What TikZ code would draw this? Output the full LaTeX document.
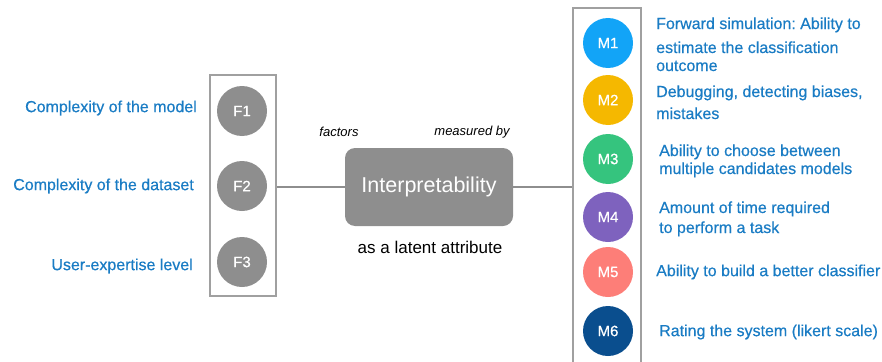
\documentclass[tikz,border=0pt]{standalone}
\usepackage{fontspec}
\setmainfont{Liberation Sans}
\newfontfamily\labfont{Liberation Sans}[FakeBold=0.5]
\frenchspacing
\definecolor{labblue}{HTML}{1A7CC4}
\definecolor{facgray}{HTML}{8E8E8E}
\definecolor{framegray}{HTML}{A0A0A0}
\definecolor{mone}{HTML}{12A4F7}
\definecolor{mtwo}{HTML}{F5B800}
\definecolor{mthree}{HTML}{35C47E}
\definecolor{mfour}{HTML}{7E62BE}
\definecolor{mfive}{HTML}{FD7E78}
\definecolor{msix}{HTML}{0A4E8E}
\begin{document}
\begin{tikzpicture}[x=1pt,y=-1pt,
  every node/.style={inner sep=0pt},
  frame/.style={draw=framegray, line width=2.4pt, rectangle},
  factor/.style={circle, fill=facgray, minimum size=50pt, text=white,
    font=\labfont\fontsize{15}{18}\selectfont},
  measure/.style={circle, minimum size=50pt, text=white,
    font=\labfont\fontsize{15}{18}\selectfont},
  lab/.style={text=labblue, align=left, font=\labfont\fontsize{16}{20}\selectfont},
  conn/.style={draw=facgray, line width=2pt},
  note/.style={font=\itshape\fontsize{13}{16}\selectfont}]
\useasboundingbox (0,0) rectangle (882,361);

% factor frame and circles
\node[frame, minimum width=66pt, minimum height=221pt] (fbox) at (243,185.5) {};
\node[factor] (f1) at (242,111) {F1};
\node[factor] (f2) at (242,186) {F2};
\node[factor] (f3) at (242,262) {F3};

\node[lab, anchor=east] (lf1) at (197,108) {Complexity of the model};
\node[lab, anchor=east] (lf2) at (194,186) {Complexity of the dataset};
\node[lab, anchor=east] (lf3) at (193,266) {User-expertise level};

% central latent attribute
\node[fill=facgray, rounded corners=10pt, minimum width=168pt, minimum height=78pt,
  text=white, font=\fontsize{21.5}{24}\selectfont] (interp) at (429,187) {Interpretability};
\node[font=\fontsize{17}{20}\selectfont] (latent) at (430,247) {as a latent attribute};
\node[note] (factors) at (339,132) {factors};
\node[note] (measured) at (472,132) {measured by};

% measure frame (open at the bottom) and circles
\node[frame, minimum width=68pt, minimum height=366pt] (mbox) at (607,191) {};
\node[measure, fill=mone] (m1) at (608,43) {M1};
\node[measure, fill=mtwo] (m2) at (608,100) {M2};
\node[measure, fill=mthree] (m3) at (608,159) {M3};
\node[measure, fill=mfour] (m4) at (608,217) {M4};
\node[measure, fill=mfive] (m5) at (608,272) {M5};
\node[measure, fill=msix] (m6) at (608,331) {M6};

% multi-line labels are placed by the baseline of their last line
\node[lab, anchor=base west] (lm1) at (656,71) {Forward simulation: Ability to\\[4pt]
  estimate the classification\\[-2pt] outcome};
\node[lab, anchor=base west] (lm2) at (656,119) {Debugging, detecting biases,\\[2pt] mistakes};
\node[lab, anchor=base west] (lm3) at (659,174) {Ability to choose between\\[-2pt] multiple candidates models};
\node[lab, anchor=base west] (lm4) at (659,233) {Amount of time required\\ to perform a task};
\node[lab, anchor=west] (lm5) at (656,272) {Ability to build a better classifier};
\node[lab, anchor=west] (lm6) at (659,332) {Rating the system (likert scale)};

% connectors
\draw[conn] (fbox.east |- interp.west) -- (interp.west);
\draw[conn] (interp.east) -- (interp.east -| mbox.west);
\end{tikzpicture}
\end{document}
